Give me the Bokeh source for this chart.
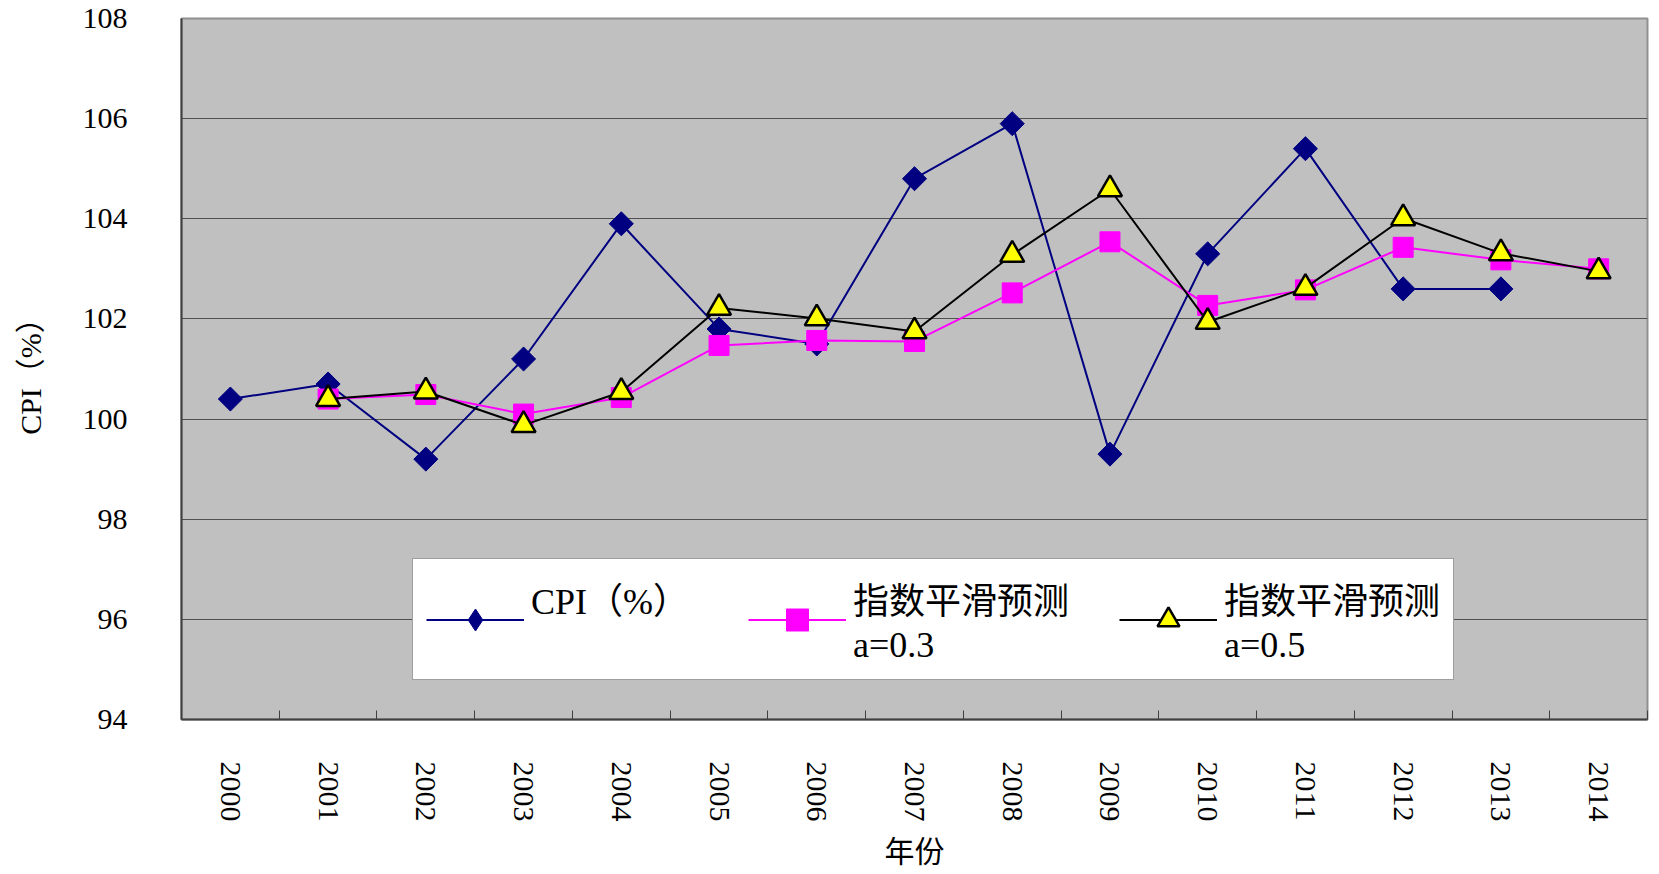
import math
from bokeh.plotting import figure
from bokeh.models import FixedTicker, Range1d, Legend, LegendItem, ColumnDataSource
from bokeh.embed import file_html
from bokeh.resources import INLINE

# ---- data ----
years = list(range(2000, 2015))
cpi_years = list(range(2000, 2014))
cpi = [100.4, 100.7, 99.2, 101.2, 103.9, 101.8, 101.5, 104.8, 105.9, 99.3, 103.3, 105.4, 102.6, 102.6]
es_years = list(range(2001, 2015))
es03 = [100.40, 100.49, 100.10, 100.43, 101.47, 101.57, 101.55, 102.52, 103.54, 102.27, 102.58, 103.43, 103.18, 103.00]
es05 = [100.40, 100.55, 99.88, 100.54, 102.22, 102.01, 101.75, 103.28, 104.59, 101.94, 102.62, 104.01, 103.31, 102.95]
y_ticks = [94, 96, 98, 100, 102, 104, 106, 108]
x_label = "年份"
y_label = "CPI（%）"
series_labels = ["CPI（%）\n ", "指数平滑预测\na=0.3", "指数平滑预测\na=0.5"]

SERIF_CJK = "Liberation Serif, Noto Sans CJK SC"

p = figure(width=1652, height=872, title=None,
           x_range=Range1d(1999.5, 2014.5), y_range=Range1d(94, 108),
           output_backend="svg", toolbar_location=None,
           min_border_left=181, min_border_top=18, min_border_right=5, min_border_bottom=153,
           background_fill_color="#C0C0C0", border_fill_color="white",
           outline_line_color="#909090", outline_line_width=2)

# x axis
p.xaxis.ticker = FixedTicker(ticks=years, minor_ticks=[y - 0.5 for y in years] + [2014.5])
p.xaxis.major_label_orientation = "vertical"
p.xaxis.major_tick_in = 0
p.xaxis.major_tick_out = 0
p.xaxis.minor_tick_in = 9
p.xaxis.minor_tick_out = 0
p.xaxis.minor_tick_line_color = "#404040"
p.xaxis.minor_tick_line_width = 1
p.xaxis.major_label_standoff = 42
p.xaxis.major_label_text_font = "Liberation Serif"
p.xaxis.major_label_text_font_size = "30px"
p.xaxis.major_label_text_color = "black"
p.xaxis.axis_label = x_label
p.xaxis.axis_label_text_font = SERIF_CJK
p.xaxis.axis_label_text_font_size = "30px"
p.xaxis.axis_label_text_font_style = "normal"
p.xaxis.axis_label_text_color = "black"
p.xaxis.axis_label_standoff = 10
p.xaxis.axis_line_color = "#404040"
p.xaxis.axis_line_width = 2

# y axis
p.yaxis.ticker = FixedTicker(ticks=y_ticks, minor_ticks=[])
p.yaxis.major_tick_in = 0
p.yaxis.major_tick_out = 0
p.yaxis.minor_tick_line_color = None
p.yaxis.major_label_standoff = 54
p.yaxis.major_label_text_font = "Liberation Serif"
p.yaxis.major_label_text_font_size = "30px"
p.yaxis.major_label_text_color = "black"
p.yaxis.axis_label = y_label
p.yaxis.axis_label_text_font = SERIF_CJK
p.yaxis.axis_label_text_font_size = "30px"
p.yaxis.axis_label_text_font_style = "normal"
p.yaxis.axis_label_text_color = "black"
p.yaxis.axis_label_standoff = 33
p.yaxis.axis_line_color = "#404040"
p.yaxis.axis_line_width = 2

p.xgrid.visible = False
p.ygrid.grid_line_color = "#505050"
p.ygrid.grid_line_width = 1

# series
cpi_src = ColumnDataSource(dict(x=cpi_years, y=cpi))
l1 = p.line("x", "y", source=cpi_src, line_color="#000080", line_width=2)
# small diamond (used for the legend glyph) fully covered by the wide diamond drawn on top
d_leg = p.scatter("x", "y", source=cpi_src, marker="diamond", size=16,
                  fill_color="#000080", line_color="#000080")
s1 = p.scatter("x", "y", source=cpi_src, marker="square", angle=math.pi / 4, size=17,
               fill_color="#000080", line_color="#000080")
l2 = p.line(es_years, es03, line_color="#FF00FF", line_width=2)
s2 = p.scatter(es_years, es03, marker="square", size=20,
               fill_color="#FF00FF", line_color="#FF00FF")
l3 = p.line(es_years, es05, line_color="black", line_width=2)
s3 = p.scatter(es_years, es05, marker="triangle", size=24,
               fill_color="#FFFF00", line_color="black", line_width=2.5)

legend = Legend(items=[
    LegendItem(label=series_labels[0], renderers=[l1, d_leg]),
    LegendItem(label=series_labels[1], renderers=[l2, s2]),
    LegendItem(label=series_labels[2], renderers=[l3, s3]),
], orientation="horizontal", location=(231, 39))
legend.label_text_font = SERIF_CJK
legend.label_text_font_size = "36px"
legend.label_text_color = "black"
legend.glyph_width = 98
legend.glyph_height = 55
legend.label_standoff = 7
legend.label_width = 167
legend.spacing = 50
legend.padding = 13
legend.margin = 0
legend.border_line_color = "#404040"
legend.border_line_width = 1
legend.background_fill_color = "white"
legend.background_fill_alpha = 1
p.add_layout(legend)

open("out.html", "w").write(file_html(p, INLINE))
